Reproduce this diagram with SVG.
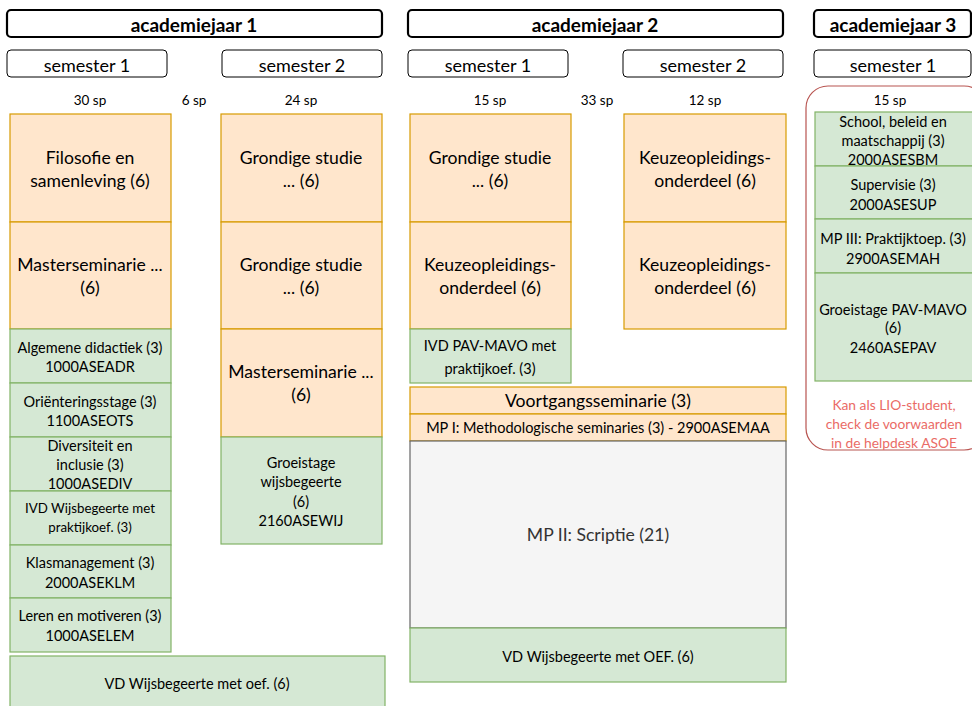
<svg xmlns="http://www.w3.org/2000/svg" width="972" height="706" viewBox="0 0 972 706">
<style>
text{font-family:Lato,"Liberation Sans",sans-serif;fill:#000;text-anchor:middle;dominant-baseline:central}
.yr{fill:#fff;stroke:#000;stroke-width:2.2}
.sem{fill:#fff;stroke:#000;stroke-width:1}
.yt{font-weight:bold;font-size:19px}
.st{font-size:18px}
.sp{font-size:13.5px}
.or{fill:#ffe6cc;stroke:#d79b00;stroke-width:1.2}
.gr{fill:#d5e8d4;stroke:#82b366;stroke-width:1.2}
.gy{fill:#f5f5f5;stroke:#666;stroke-width:1.2}
.big{font-size:17.6px}
.sm{font-size:14.5px}
.xs{font-size:13.3px}
.red{fill:#ea6b66;font-size:13.8px}
</style>
<rect width="972" height="706" fill="#fff"/>
<g id="headers">
<g id="jaar1"><rect class="yr" x="7" y="10" width="375" height="27" rx="4"/><text class="yt" x="194" y="24">academiejaar 1</text></g>
<g id="jaar2"><rect class="yr" x="408" y="10" width="375" height="27" rx="4"/><text class="yt" x="595" y="24">academiejaar 2</text></g>
<g id="jaar3"><rect class="yr" x="814" y="10" width="157" height="27" rx="4"/><text class="yt" x="893" y="24">academiejaar 3</text></g>
<g id="j1s1"><rect class="sem" x="7" y="50" width="160" height="27" rx="4"/><text class="st" x="87" y="64.5">semester 1</text></g>
<g id="j1s2"><rect class="sem" x="222" y="50" width="160" height="27" rx="4"/><text class="st" x="302" y="64.5">semester 2</text></g>
<g id="j2s1"><rect class="sem" x="408" y="50" width="160" height="27" rx="4"/><text class="st" x="488" y="64.5">semester 1</text></g>
<g id="j2s2"><rect class="sem" x="623" y="50" width="160" height="27" rx="4"/><text class="st" x="703" y="64.5">semester 2</text></g>
<g id="j3s1"><rect class="sem" x="814" y="50" width="157" height="27" rx="4"/><text class="st" x="893" y="64.5">semester 1</text></g>
</g>
<g id="credits">
<text class="sp" x="90" y="100">30 sp</text>
<text class="sp" x="194" y="100">6 sp</text>
<text class="sp" x="301" y="100">24 sp</text>
<text class="sp" x="490" y="100">15 sp</text>
<text class="sp" x="597" y="100">33 sp</text>
<text class="sp" x="705" y="100">12 sp</text>
</g>
<g id="lio">
<rect x="806" y="86" width="180" height="364" rx="22" fill="#fff" stroke="#b85450" stroke-width="1.2"/>
<text class="sp" x="890" y="100">15 sp</text>
<text class="red" x="894" y="404">Kan als LIO-student,</text>
<text class="red" x="894" y="423">check de voorwaarden</text>
<text class="red" x="894" y="442">in de helpdesk ASOE</text>
</g>
<g id="filosofie"><rect class="or" x="10" y="114" width="161" height="108"/><text class="big" x="90" y="157">Filosofie en</text><text class="big" x="90" y="180">samenleving (6)</text></g>
<g id="masterseminarie1"><rect class="or" x="10" y="222" width="161" height="107"/><text class="big" x="90" y="264">Masterseminarie ...</text><text class="big" x="90" y="287">(6)</text></g>
<g id="didactiek"><rect class="gr" x="10" y="329" width="161" height="54"/><text class="sm" x="90" y="347">Algemene didactiek (3)</text><text class="sm" x="90" y="366">1000ASEADR</text></g>
<g id="orientering"><rect class="gr" x="10" y="383" width="161" height="54"/><text class="sm" x="90" y="401">Oriënteringsstage (3)</text><text class="sm" x="90" y="420">1100ASEOTS</text></g>
<g id="diversiteit"><rect class="gr" x="10" y="437" width="161" height="54"/><text class="sm" x="90" y="445">Diversiteit en</text><text class="sm" x="90" y="464">inclusie (3)</text><text class="sm" x="90" y="483">1000ASEDIV</text></g>
<g id="ivdwijs"><rect class="gr" x="10" y="491" width="161" height="54"/><text class="xs" x="90" y="508">IVD Wijsbegeerte met</text><text class="xs" x="90" y="527">praktijkoef. (3)</text></g>
<g id="klasmanagement"><rect class="gr" x="10" y="545" width="161" height="53"/><text class="sm" x="90" y="562">Klasmanagement (3)</text><text class="sm" x="90" y="582">2000ASEKLM</text></g>
<g id="leren"><rect class="gr" x="10" y="598" width="161" height="54"/><text class="sm" x="90" y="615">Leren en motiveren (3)</text><text class="sm" x="90" y="635">1000ASELEM</text></g>
<g id="vdwijs1"><rect class="gr" x="10" y="656" width="375" height="56"/><text class="sm" x="197" y="683">VD Wijsbegeerte met oef. (6)</text></g>
<g id="grondig1"><rect class="or" x="221" y="114" width="161" height="108"/><text class="big" x="301" y="157">Grondige studie</text><text class="big" x="301" y="180">... (6)</text></g>
<g id="grondig2"><rect class="or" x="221" y="222" width="161" height="107"/><text class="big" x="301" y="264">Grondige studie</text><text class="big" x="301" y="287">... (6)</text></g>
<g id="masterseminarie2"><rect class="or" x="221" y="329" width="161" height="108"/><text class="big" x="301" y="371">Masterseminarie ...</text><text class="big" x="301" y="394">(6)</text></g>
<g id="groeiwijs"><rect class="gr" x="221" y="437" width="161" height="107"/><text class="sm" x="301" y="462">Groeistage</text><text class="sm" x="301" y="481">wijsbegeerte</text><text class="sm" x="301" y="501">(6)</text><text class="sm" x="301" y="520">2160ASEWIJ</text></g>
<g id="grondig3"><rect class="or" x="410" y="114" width="161" height="108"/><text class="big" x="490" y="157">Grondige studie</text><text class="big" x="490" y="180">... (6)</text></g>
<g id="keuze1"><rect class="or" x="410" y="222" width="161" height="107"/><text class="big" x="490" y="264">Keuzeopleidings-</text><text class="big" x="490" y="287">onderdeel (6)</text></g>
<g id="ivdpav"><rect class="gr" x="410" y="329" width="161" height="54"/><text class="sm" x="490" y="345">IVD PAV-MAVO met</text><text class="sm" x="490" y="368">praktijkoef. (3)</text></g>
<g id="keuze2"><rect class="or" x="624" y="114" width="162" height="108"/><text class="big" x="705" y="157">Keuzeopleidings-</text><text class="big" x="705" y="180">onderdeel (6)</text></g>
<g id="keuze3"><rect class="or" x="624" y="222" width="162" height="107"/><text class="big" x="705" y="264">Keuzeopleidings-</text><text class="big" x="705" y="287">onderdeel (6)</text></g>
<g id="voortgang"><rect class="or" x="410" y="387" width="376" height="27"/><text class="big" x="598" y="400">Voortgangsseminarie (3)</text></g>
<g id="mp1"><rect class="or" x="410" y="414" width="376" height="27"/><text class="sm" x="598" y="427">MP I: Methodologische seminaries (3) - 2900ASEMAA</text></g>
<g id="mp2"><rect class="gy" x="410" y="441" width="376" height="187"/><text class="big" x="598" y="534" style="fill:#333">MP II: Scriptie (21)</text></g>
<g id="vdwijs2"><rect class="gr" x="410" y="628" width="376" height="54"/><text class="sm" x="598" y="656">VD Wijsbegeerte met OEF. (6)</text></g>
<g id="school"><rect class="gr" x="815" y="112" width="165" height="54"/><text class="sm" x="893" y="121">School, beleid en</text><text class="sm" x="893" y="140">maatschappij (3)</text><text class="sm" x="893" y="159">2000ASESBM</text></g>
<g id="supervisie"><rect class="gr" x="815" y="166" width="165" height="53"/><text class="sm" x="893" y="184">Supervisie (3)</text><text class="sm" x="893" y="204">2000ASESUP</text></g>
<g id="mp3"><rect class="gr" x="815" y="219" width="165" height="54"/><text class="sm" x="893" y="238">MP III: Praktijktoep. (3)</text><text class="sm" x="893" y="258">2900ASEMAH</text></g>
<g id="groeipav"><rect class="gr" x="815" y="273" width="165" height="108"/><text class="sm" x="893" y="309">Groeistage PAV-MAVO</text><text class="sm" x="893" y="327">(6)</text><text class="sm" x="893" y="347">2460ASEPAV</text></g>
<g id="connectors"></g>
</svg>
